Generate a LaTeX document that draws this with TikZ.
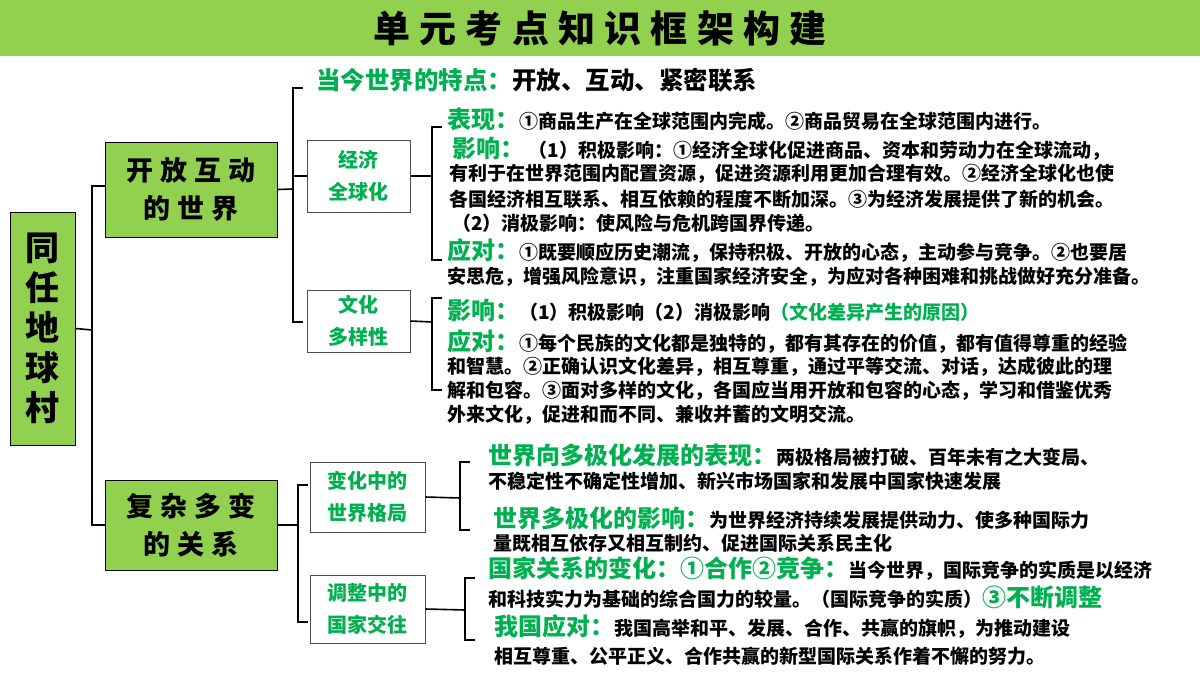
\documentclass[tikz,border=0pt]{standalone}
\usepackage{fontspec}
\setmainfont{Noto Sans CJK SC}
\definecolor{gr}{HTML}{00B050}
\definecolor{lg}{HTML}{92D050}
\newcommand\G[1]{\textcolor{gr}{#1}}
\newcommand\Lab[1]{{\fontsize{24}{26}\selectfont\G{#1}}}
\begin{document}
\begin{tikzpicture}[x=1pt,y=-1pt,
  gbox/.style={draw=black,line width=1pt,fill=lg,inner sep=0pt},
  wbox/.style={draw=black!70,line width=1pt,fill=white,inner sep=0pt},
  br/.style={line width=1.6pt},
  tx/.style={anchor=west,inner sep=0pt,font=\fontsize{19}{21}\selectfont\bfseries},
  lb/.style={anchor=west,inner sep=0pt,font=\fontsize{24.5}{26}\selectfont\bfseries}]
\useasboundingbox (0,0) rectangle (1200,675);
\fill[lg] (0,0) rectangle (1200,56);
\node (title) at (600,28) {\fontsize{37}{40}\selectfont\bfseries\addfontfeature{LetterSpace=25}单元考点知识框架构建};
% main boxes
\node[gbox,minimum width=65,minimum height=233] (earth) at (42.5,328.5) {};
\node[align=center,font=\fontsize{34}{40}\selectfont\bfseries] at (earth) {同\\任\\地\\球\\村};
\node[gbox,minimum width=172,minimum height=95] (open) at (191,189.5) {};
\node[align=center,font=\fontsize{27}{38}\selectfont\bfseries,text width=165] at (open) {\addfontfeature{LetterSpace=25}开放互动\\的世界};
\node[gbox,minimum width=172,minimum height=90] (comp) at (191,525) {};
\node[align=center,font=\fontsize{27}{38}\selectfont\bfseries,text width=165] at (comp) {\addfontfeature{LetterSpace=25}复杂多变\\的关系};
% white boxes
\tikzset{wt/.style={align=center,font=\fontsize{20}{32}\selectfont\bfseries\color{gr}}}
\node[wbox,minimum width=103,minimum height=72] (econ) at (358.5,176) {};
\node[wt] at (econ) {经济\\全球化};
\node[wbox,minimum width=103,minimum height=62] (cult) at (358.5,321) {};
\node[wt] at (cult) {文化\\多样性};
\node[wbox,minimum width=115,minimum height=70] (pat) at (367.5,497) {};
\node[wt] at (pat) {变化中的\\世界格局};
\node[wbox,minimum width=115,minimum height=68] (rel) at (367.5,609) {};
\node[wt] at (rel) {调整中的\\国家交往};
% brackets
\coordinate (b0) at (92,330);
\draw[br] (earth.east) -- (b0);
\draw[br] (105,186) -- (92,186) -- (92,525) -- (105,525);
\draw[br] (open.east) -- (293,189);
\draw[br] (303,88) -- (293,88) -- (293,322) -- (303,322);
\draw[br] (293,176) -- (econ.west);
\draw[br] (econ.east) -- (432,176);
\draw[br] (442,127) -- (432,127) -- (432,260) -- (442,260);
\draw[br] (cult.east) -- (432,322);
\draw[br] (442,298) -- (432,298) -- (432,390) -- (442,390);
\draw[br] (comp.east) -- (298,525);
\draw[br] (308,485) -- (298,485) -- (298,622) -- (308,622);
\draw[br] (pat.east) -- (460,498);
\draw[br] (470,462) -- (460,462) -- (460,530) -- (470,530);
\draw[br] (rel.east) -- (465,610);
\draw[br] (475,578) -- (465,578) -- (465,640) -- (475,640);
% texts
\node[lb] (t0) at (316,80) {\G{当今世界的特点：}开放、互动、紧密联系};
\node[tx] (e1) at (447,119) {\Lab{表现：}①商品生产在全球范围内完成。②商品贸易在全球范围内进行。};
\node[tx] (e2) at (452,149) {\Lab{影响：}\ （1）积极影响：①经济全球化促进商品、资本和劳动力在全球流动，};
\node[tx] (e3) at (449,174) {有利于在世界范围内配置资源，促进资源利用更加合理有效。②经济全球化也使};
\node[tx] (e4) at (449,199) {各国经济相互联系、相互依赖的程度不断加深。③为经济发展提供了新的机会。};
\node[tx] (e5) at (452,223) {（2）消极影响：使风险与危机跨国界传递。};
\node[tx] (e6) at (447,251) {\Lab{应对：}①既要顺应历史潮流，保持积极、开放的心态，主动参与竞争。②也要居};
\node[tx] (e7) at (447,277) {安思危，增强风险意识，注重国家经济安全，为应对各种困难和挑战做好充分准备。};
\node[tx] (c1) at (447,310) {\Lab{影响：}（1）积极影响（2）消极影响\G{（文化差异产生的原因）}};
\node[tx] (c2) at (447,342) {\Lab{应对：}①每个民族的文化都是独特的，都有其存在的价值，都有值得尊重的经验};
\node[tx] (c3) at (447,367) {和智慧。②正确认识文化差异，相互尊重，通过平等交流、对话，达成彼此的理};
\node[tx] (c4) at (447,391) {解和包容。③面对多样的文化，各国应当用开放和包容的心态，学习和借鉴优秀};
\node[tx] (c5) at (447,415) {外来文化，促进和而不同、兼收并蓄的文明交流。};
\node[tx] (p1) at (488,455) {\Lab{世界向多极化发展的表现：}两极格局被打破、百年未有之大变局、};
\node[tx] (p2) at (488,481) {不稳定性不确定性增加、新兴市场国家和发展中国家快速发展};
\node[tx] (p3) at (493,518) {\Lab{世界多极化的影响：}为世界经济持续发展提供动力、使多种国际力};
\node[tx] (p4) at (493,543) {量既相互依存又相互制约、促进国际关系民主化};
\node[tx] (r1) at (488,569) {\Lab{国家关系的变化：①合作②竞争：}当今世界，国际竞争的实质是以经济};
\node[tx] (r2) at (488,597) {和科技实力为基础的综合国力的较量。（国际竞争的实质）\Lab{③不断调整}};
\node[tx] (r3) at (494,627) {\Lab{我国应对：}我国高举和平、发展、合作、共赢的旗帜，为推动建设};
\node[tx] (r4) at (494,656) {相互尊重、公平正义、合作共赢的新型国际关系作着不懈的努力。};
\end{tikzpicture}
\end{document}
